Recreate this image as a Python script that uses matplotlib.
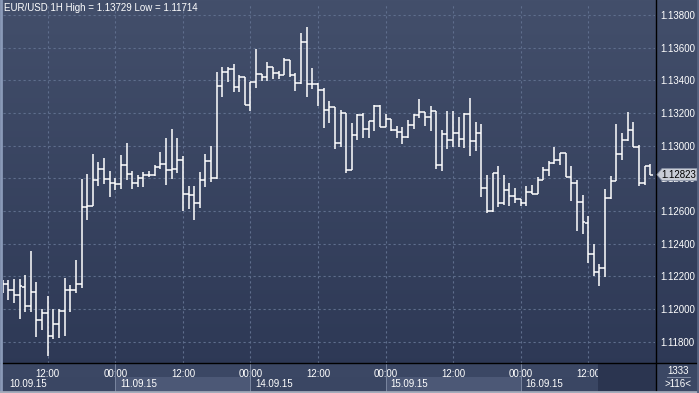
import matplotlib.pyplot as plt
import matplotlib.colors as mcolors
import matplotlib.transforms as mtransforms
from matplotlib.patches import Rectangle, Polygon
from matplotlib.lines import Line2D
import numpy as np

plt.rcParams['font.family'] = ['Liberation Sans', 'DejaVu Sans']

# ------------- Data (EUR/USD, 1 hour bars) ------------- #
opens = [1.12140, 1.12152, 1.12117, 1.12087, 1.12133, 1.12022, 1.12103, 1.11935, 1.11976, 1.11834,
         1.11911, 1.11986, 1.12115, 1.12115, 1.12152, 1.12626, 1.12632, 1.12788, 1.12855, 1.12794,
         1.12774, 1.12764, 1.12881, 1.12828, 1.12774, 1.12800, 1.12820, 1.12820, 1.12869, 1.12891,
         1.12853, 1.12859, 1.12911, 1.12705, 1.12699, 1.12651, 1.12792, 1.12907, 1.12802, 1.13364,
         1.13449, 1.13469, 1.13362, 1.13422, 1.13251, 1.13392, 1.13438, 1.13422, 1.13483, 1.13444,
         1.13432, 1.13525, 1.13432, 1.13382, 1.13634, 1.13378, 1.13378, 1.13343, 1.13220, 1.13234,
         1.13018, 1.13200, 1.12851, 1.13063, 1.13190, 1.13103, 1.13150, 1.13240, 1.13113, 1.13164,
         1.13099, 1.13083, 1.13053, 1.13129, 1.13190, 1.13208, 1.13178, 1.13214, 1.12883, 1.13073,
         1.13036, 1.13079, 1.13042, 1.13194, 1.13030, 1.13079, 1.12739, 1.12602, 1.12834, 1.12649,
         1.12729, 1.12693, 1.12675, 1.12649, 1.12719, 1.12703, 1.12790, 1.12851, 1.12895, 1.12915,
         1.12956, 1.12810, 1.12770, 1.12655, 1.12527, 1.12339, 1.12230, 1.12254, 1.12679, 1.12784,
         1.12948, 1.13032, 1.13097, 1.12992, 1.12770, 1.12875]
highs = [1.12180, 1.12178, 1.12184, 1.12184, 1.12208, 1.12354, 1.12164, 1.12002, 1.12083, 1.12002,
         1.12002, 1.12190, 1.12148, 1.12299, 1.12794, 1.12824, 1.12952, 1.12899, 1.12925, 1.12844,
         1.12804, 1.12945, 1.13014, 1.12848, 1.12818, 1.12838, 1.12848, 1.12879, 1.12960, 1.13049,
         1.13105, 1.13045, 1.12939, 1.12756, 1.12756, 1.12840, 1.12948, 1.12998, 1.13449, 1.13483,
         1.13479, 1.13499, 1.13432, 1.13422, 1.13392, 1.13590, 1.13438, 1.13513, 1.13483, 1.13459,
         1.13535, 1.13525, 1.13444, 1.13687, 1.13729, 1.13473, 1.13382, 1.13352, 1.13275, 1.13238,
         1.13218, 1.13200, 1.13139, 1.13194, 1.13200, 1.13150, 1.13250, 1.13250, 1.13194, 1.13164,
         1.13123, 1.13113, 1.13160, 1.13194, 1.13285, 1.13208, 1.13244, 1.13214, 1.13097, 1.13214,
         1.13214, 1.13174, 1.13200, 1.13291, 1.13145, 1.13133, 1.12820, 1.12834, 1.12875, 1.12820,
         1.12770, 1.12739, 1.12675, 1.12756, 1.12760, 1.12810, 1.12871, 1.12905, 1.12992, 1.12956,
         1.12956, 1.12875, 1.12790, 1.12699, 1.12568, 1.12396, 1.12275, 1.12733, 1.12814, 1.13133,
         1.13079, 1.13208, 1.13147, 1.13006, 1.12875, 1.12887]
lows = [1.12100, 1.12057, 1.12036, 1.11942, 1.11980, 1.11980, 1.11828, 1.11871, 1.11714, 1.11820,
        1.11824, 1.11834, 1.11980, 1.12101, 1.12131, 1.12548, 1.12628, 1.12754, 1.12764, 1.12687,
        1.12727, 1.12733, 1.12790, 1.12737, 1.12750, 1.12750, 1.12808, 1.12814, 1.12855, 1.12758,
        1.12796, 1.12836, 1.12600, 1.12614, 1.12546, 1.12620, 1.12748, 1.12776, 1.12796, 1.13297,
        1.13388, 1.13327, 1.13327, 1.13251, 1.13212, 1.13352, 1.13398, 1.13398, 1.13408, 1.13408,
        1.13432, 1.13418, 1.13333, 1.13378, 1.13297, 1.13348, 1.13242, 1.13109, 1.13137, 1.12982,
        1.12994, 1.12836, 1.12851, 1.13038, 1.13048, 1.13048, 1.13093, 1.13113, 1.13113, 1.13093,
        1.13048, 1.13012, 1.13050, 1.13103, 1.13170, 1.13119, 1.13093, 1.12855, 1.12845, 1.12982,
        1.12992, 1.12992, 1.12988, 1.12937, 1.12968, 1.12689, 1.12588, 1.12592, 1.12622, 1.12638,
        1.12628, 1.12649, 1.12634, 1.12634, 1.12703, 1.12703, 1.12790, 1.12816, 1.12891, 1.12881,
        1.12806, 1.12659, 1.12477, 1.12457, 1.12281, 1.12200, 1.12143, 1.12198, 1.12673, 1.12784,
        1.12911, 1.13030, 1.12992, 1.12754, 1.12760, 1.12820]
closes = [1.12152, 1.12117, 1.12087, 1.12142, 1.12022, 1.12103, 1.11935, 1.11976, 1.11834, 1.11911,
          1.11986, 1.12115, 1.12115, 1.12152, 1.12626, 1.12632, 1.12788, 1.12855, 1.12794, 1.12774,
          1.12764, 1.12881, 1.12828, 1.12774, 1.12800, 1.12820, 1.12820, 1.12869, 1.12891, 1.12853,
          1.12859, 1.12911, 1.12705, 1.12699, 1.12651, 1.12792, 1.12907, 1.12802, 1.13364, 1.13449,
          1.13469, 1.13362, 1.13422, 1.13251, 1.13392, 1.13438, 1.13422, 1.13483, 1.13444, 1.13432,
          1.13525, 1.13432, 1.13382, 1.13634, 1.13378, 1.13378, 1.13343, 1.13220, 1.13234, 1.13018,
          1.13200, 1.12851, 1.13063, 1.13190, 1.13103, 1.13150, 1.13240, 1.13113, 1.13164, 1.13099,
          1.13083, 1.13053, 1.13129, 1.13190, 1.13208, 1.13178, 1.13214, 1.12883, 1.13073, 1.13036,
          1.13079, 1.13042, 1.13194, 1.13030, 1.13079, 1.12739, 1.12602, 1.12834, 1.12649, 1.12729,
          1.12693, 1.12675, 1.12649, 1.12719, 1.12703, 1.12790, 1.12851, 1.12895, 1.12915, 1.12956,
          1.12810, 1.12770, 1.12655, 1.12533, 1.12339, 1.12230, 1.12254, 1.12679, 1.12784, 1.12948,
          1.13032, 1.13097, 1.12992, 1.12770, 1.12875, 1.12823]

time_ticks = [8, 20, 32, 44, 56, 68, 80, 92, 104]
time_labels = ['12:00', '00:00', '12:00', '00:00', '12:00', '00:00', '12:00', '00:00', '12:00']
day_starts = [0, 20, 44, 68, 92]
day_labels = ['10.09.15', '11.09.15', '14.09.15', '15.09.15', '16.09.15']
price_ticks = [1.118, 1.120, 1.122, 1.124, 1.126, 1.128, 1.130, 1.132, 1.134, 1.136, 1.138]

# ------------- Figure Setup ------------- #
W, H = 699, 393
fig = plt.figure(figsize=(W / 100, H / 100), dpi=100)

bg = fig.add_axes([0, 0, 1, 1], zorder=-10)
grad = np.linspace(0, 1, 256).reshape(-1, 1)
bg_cmap = mcolors.LinearSegmentedColormap.from_list('bg', ['#434f6b', '#2c3754'])
bg.imshow(grad, aspect='auto', cmap=bg_cmap, extent=[0, 1, 0, 1])
bg.set_xlim(0, 1)
bg.set_ylim(0, 1)
bg.axis('off')

def fx(px):
    return px / W

def fy(py):
    return 1 - py / H

# bottom time panel
fig.add_artist(Rectangle((0, fy(391)), 1, fy(363) - fy(391), transform=fig.transFigure,
                         facecolor='#3b4764', edgecolor='none', zorder=-5))

ax = fig.add_axes([fx(3), fy(363), fx(655) - fx(3), fy(3) - fy(363)], zorder=0)
ax.set_facecolor('none')
ax.set_xlim(0.05, 115.86)
ax.set_ylim(1.116702, 1.138734)
for s in ax.spines.values():
    s.set_visible(False)

ax.set_yticks(price_ticks)
ax.set_yticklabels(['%.5f' % p for p in price_ticks])
ax.yaxis.tick_right()
ax.set_xticks(time_ticks)
ax.set_xticklabels(time_labels)
ax.tick_params(axis='y', length=0, pad=4, labelsize=7, labelcolor='white')
ax.tick_params(axis='x', length=0, pad=4, labelsize=7, labelcolor='white')
ax.grid(color='#5f6e8d', linestyle=(0, (2, 2.5)), linewidth=0.8)
ax.set_axisbelow(True)

# ------------- OHLC bars ------------- #
x = np.arange(len(closes))
ax.vlines(x, lows, highs, color='white', linewidth=1.1, zorder=3)
ax.hlines(opens, x - 0.5, x, color='white', linewidth=1.1, zorder=3)
ax.hlines(closes, x, x + 0.5, color='white', linewidth=1.1, zorder=3)

# date boxes
bt = mtransforms.blended_transform_factory(ax.transData, fig.transFigure)
edges = day_starts[1:] + [115.86]
for i, (d, lab) in enumerate(zip(day_starts, day_labels)):
    left = max(d, 0.05)
    color = '#4c5876' if i % 2 == 1 else '#3a4663'
    ax.add_patch(Rectangle((left, fy(391)), edges[i] - left, fy(377) - fy(391), transform=bt,
                           facecolor=color, edgecolor='none', clip_on=False, zorder=1))
    ax.text(left + (1.2 if i == 0 else 0.8), fy(384), lab, transform=bt, color='white',
            fontsize=7, va='center', ha='left', clip_on=False, zorder=2)
for d in day_starts[1:]:
    ax.add_line(Line2D([d, d], [fy(391), fy(363)], transform=bt, color='#7a86a0',
                       linewidth=0.7, clip_on=False, zorder=1.5))

# dark scroll block
fig.add_artist(Rectangle((fx(598), fy(391)), fx(656) - fx(598), fy(364) - fy(391),
                         transform=fig.transFigure, facecolor='#2b3550', edgecolor='none', zorder=5))

# separators
fig.add_artist(Line2D([0, 1], [fy(363), fy(363)], transform=fig.transFigure, color='black', lw=1, zorder=6))
fig.add_artist(Line2D([fx(656), fx(656)], [fy(391), 1], transform=fig.transFigure, color='black', lw=1, zorder=6))

# last price marker
last = closes[-1]
pt = mtransforms.blended_transform_factory(fig.transFigure, ax.transData)
h = 0.00037
fig.add_artist(Polygon([(fx(657), last), (fx(662), last + h), (fx(697), last + h),
                        (fx(697), last - h), (fx(662), last - h)], closed=True, transform=pt,
                       facecolor='#c9cdd6', edgecolor='#8a93a6', lw=0.6, zorder=7))
fig.text(fx(661), last, '%.5f' % last, transform=pt, color='black', fontsize=7, va='center', ha='left', zorder=8)

# right bottom counters
fig.text(fx(678), fy(371), '1333', color='white', fontsize=7, ha='center', va='center', zorder=8)
fig.add_artist(Line2D([fx(667), fx(690)], [fy(377), fy(377)], transform=fig.transFigure,
                      color='#8c97ad', lw=0.6, zorder=8))
fig.text(fx(678), fy(384), '>%d<' % len(closes), color='white', fontsize=7, ha='center', va='center', zorder=8)

# title
fig.text(fx(4), fy(8), 'EUR/USD 1H High = %.5f Low = %.5f' % (max(highs), min(lows)),
         color='white', fontsize=7, ha='left', va='center', zorder=8)

# border
fig.add_artist(Line2D([fx(1), fx(1)], [0, 1], transform=fig.transFigure, color='#8a9ab8', lw=2, zorder=9))
fig.add_artist(Line2D([0, 1], [fy(392), fy(392)], transform=fig.transFigure, color='#a3abbb', lw=2, zorder=9))
fig.add_artist(Line2D([fx(698), fx(698)], [0, 1], transform=fig.transFigure, color='#56627e', lw=2, zorder=9))

fig.savefig('out.png', dpi=100)
